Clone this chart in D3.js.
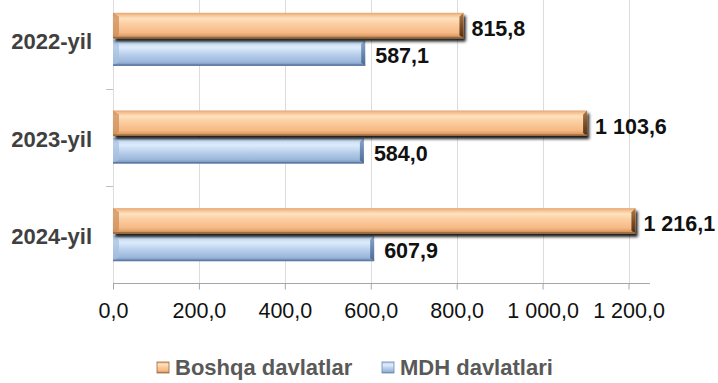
<!DOCTYPE html>
<html><head><meta charset="utf-8">
<script src="https://cdn.jsdelivr.net/npm/d3@7"></script>
<style>html,body{margin:0;padding:0;background:#fff;}svg{display:block;}</style>
</head><body>
<script>
const categories = ["2022-yil", "2023-yil", "2024-yil"];
const seriesNames = ["Boshqa davlatlar", "MDH davlatlari"];
const boshqa = [815.8, 1103.6, 1216.1];
const mdh = [587.1, 584.0, 607.9];
const tickValues = [0, 200, 400, 600, 800, 1000, 1200];

const W = 718, H = 383;
const svg = d3.select("body").append("svg").attr("width", W).attr("height", H);
const defs = svg.append("defs");

function grad(id, stops) {
  const g = defs.append("linearGradient").attr("id", id).attr("x1", 0).attr("y1", 0).attr("x2", 0).attr("y2", 1);
  stops.forEach(s => g.append("stop").attr("offset", s[0]).attr("stop-color", s[1]));
}
grad("gO", [[0, "#E3A56F"], [0.08, "#F6BF8D"], [0.22, "#FFE2C0"], [0.42, "#FCCFA3"], [0.78, "#F7B884"], [0.9, "#DDA06A"], [1, "#A97648"]]);
grad("gB", [[0, "#9FBBE0"], [0.08, "#C6DBF3"], [0.28, "#DDEBFB"], [0.55, "#B9D0EC"], [0.85, "#9AB6DA"], [1, "#6C89B0"]]);
grad("gOend", [[0, "#B07A48"], [0.5, "#7E5028"], [1, "#4E3016"]]);
grad("gBend", [[0, "#8CA8CE"], [0.5, "#6A88B0"], [1, "#4E6A90"]]);
const f = defs.append("filter").attr("id", "sh").attr("x", "-5%").attr("y", "-30%").attr("width", "115%").attr("height", "190%");
f.append("feDropShadow").attr("dx", 2).attr("dy", 3).attr("stdDeviation", 1.4).attr("flood-color", "#000").attr("flood-opacity", 0.9);

const x = d3.scaleLinear().domain([0, 1250]).range([113, 650]);
const y = d3.scaleBand().domain(categories).range([-9, 284]).padding(0);
const axisY = 283.5;

const fmtLocale = d3.formatLocale({decimal: ",", thousands: " ", grouping: [3], currency: ["", ""]});
const fmt = fmtLocale.format(",.1f");

// gridlines
svg.append("g").selectAll("line").data(tickValues).join("line")
  .attr("x1", d => Math.round(x(d)) + 0.5).attr("x2", d => Math.round(x(d)) + 0.5)
  .attr("y1", 0).attr("y2", axisY)
  .attr("stroke", "#DCDCDC").attr("stroke-width", 1);

// category tick marks
svg.append("g").selectAll("line").data(categories.slice(1)).join("line")
  .attr("x1", 106).attr("x2", 113).attr("y1", d => Math.round(y(d)) + 0.5).attr("y2", d => Math.round(y(d)) + 0.5)
  .attr("stroke", "#BFBFBF");

// x axis
const xAxis = d3.axisBottom(x).tickValues(tickValues).tickSize(6).tickPadding(13).tickFormat(d => fmt(d));
const gx = svg.append("g").attr("transform", `translate(0,${axisY})`).call(xAxis);
gx.select(".domain").attr("stroke", "#A6A6A6").attr("d", `M${x(0)},0H${x(1250)}`);
gx.selectAll(".tick line").attr("stroke", "#A6A6A6");
gx.selectAll(".tick text").attr("font-family", "Liberation Sans, Arial, sans-serif").attr("font-size", 21.5).attr("fill", "#111");

// category labels
svg.append("g").selectAll("text").data(categories).join("text")
  .attr("x", 92).attr("y", d => y(d) + y.bandwidth() / 2 + 9)
  .attr("text-anchor", "end")
  .attr("font-family", "Liberation Sans, Arial, sans-serif").attr("font-weight", "bold").attr("font-size", 22)
  .attr("fill", "#404040").text(d => d);

const barH = 25.5;
function drawBars(vals, key) {
  const isO = key === "O";
  const g = svg.append("g");
  vals.forEach((v, i) => {
    const c = y(categories[i]) + y.bandwidth() / 2;
    const top = isO ? c - 27 : c + 0.5;
    const gg = g.append("g");
    if (isO) gg.attr("filter", "url(#sh)");
    const x0 = x(0), x1 = x(v);
    gg.append("rect").attr("x", x0).attr("y", top).attr("width", x1 - x0).attr("height", barH).attr("fill", `url(#g${key})`);
    // left bevel
    gg.append("path").attr("d", `M${x0},${top}L${x0 + 6},${top + 4}L${x0 + 6},${top + barH - 4}L${x0},${top + barH}Z`)
      .attr("fill", isO ? "#C98C58" : "#A8C0E0").attr("opacity", 0.7);
    // right end
    gg.append("path").attr("d", `M${x1},${top}L${x1 - 4},${top + 4}L${x1 - 4},${top + barH - 3}L${x1},${top + barH}Z`)
      .attr("fill", `url(#g${key}end)`);
    gg.append("rect").attr("x", x0).attr("y", top + barH - 1.5).attr("width", x1 - x0).attr("height", 1.5).attr("fill", isO ? "#9A6A40" : "#5E7BA3");
  });
  svg.append("g").selectAll("text").data(vals).join("text")
    .attr("x", d => x(d) + (isO ? 8 : 10))
    .attr("y", (d, i) => y(categories[i]) + y.bandwidth() / 2 + (isO ? -4 : 23))
    .attr("font-family", "Liberation Sans, Arial, sans-serif").attr("font-weight", "bold").attr("font-size", 21.5)
    .attr("fill", "#111").text(d => fmt(d));
}
drawBars(mdh, "B");
drawBars(boshqa, "O");

// legend
const legend = [{name: seriesNames[0], k: "O", mx: 157}, {name: seriesNames[1], k: "B", mx: 382}];
const lg = svg.append("g");
legend.forEach(l => {
  lg.append("rect").attr("x", l.mx).attr("y", 362).attr("width", 12).attr("height", 11).attr("fill", `url(#g${l.k})`)
    .attr("stroke", l.k === "O" ? "#9A6A40" : "#6C89B0").attr("stroke-width", 0.8);
  lg.append("text").attr("x", l.mx + 18).attr("y", 375)
    .attr("font-family", "Liberation Sans, Arial, sans-serif").attr("font-weight", "bold").attr("font-size", 22)
    .attr("fill", "#595959").text(l.name);
});
</script>
</body></html>
